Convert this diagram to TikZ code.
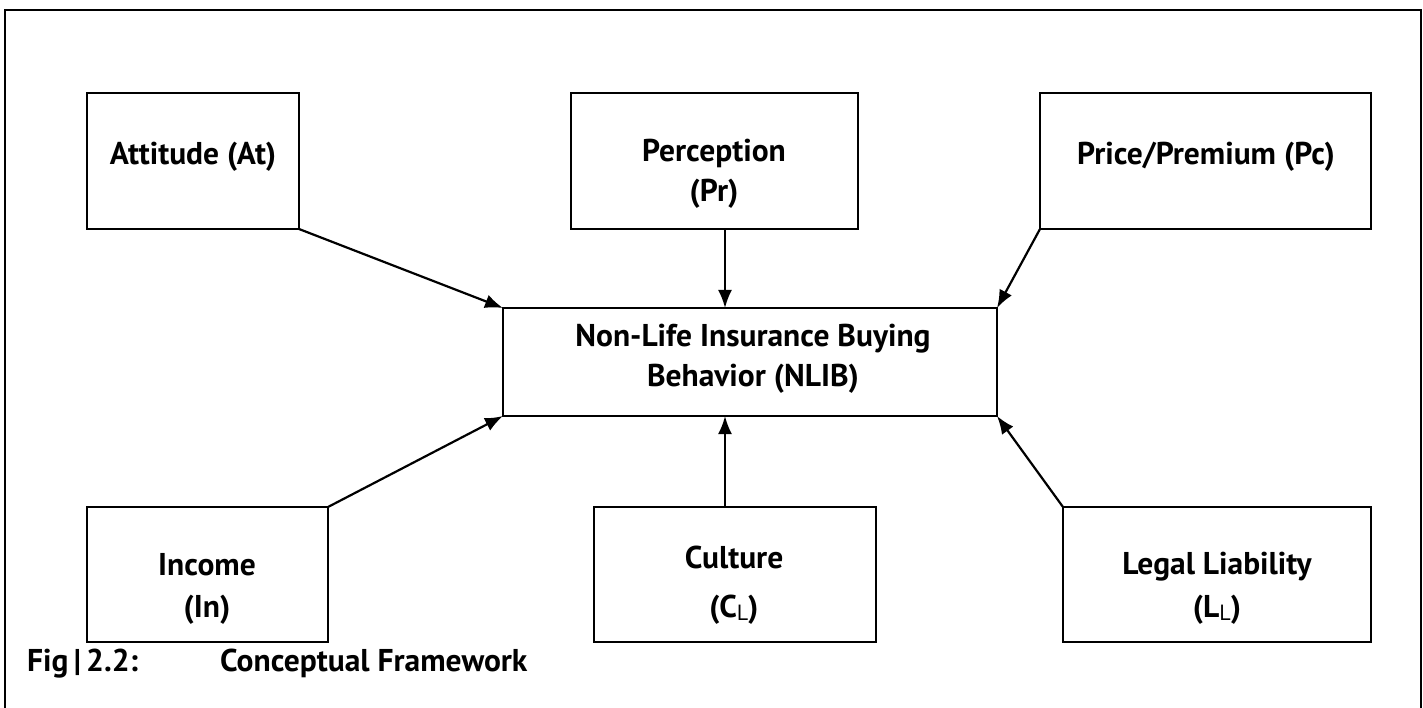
\documentclass[tikz,border=0pt]{standalone}
\usepackage{fontspec}
\setmainfont{PT Sans}
\usetikzlibrary{arrows.meta}
\newcommand{\subL}{{\fontsize{22}{22}\selectfont\mdseries\raisebox{-3pt}{L}}}
\begin{document}
\begin{tikzpicture}[x=1pt,y=-1pt,
  box/.style={draw,line width=2.2pt,inner sep=0pt,outer sep=0pt,minimum height=136pt},
  txt/.style={anchor=base,inner sep=0pt,font=\fontsize{31.5}{31.5}\selectfont\bfseries},
  captxt/.style={anchor=base west,inner sep=0pt,font=\fontsize{31.5}{31.5}\selectfont\bfseries},
  arr/.style={line width=2.2pt,-{Latex[length=18pt,width=14pt]}}]
\useasboundingbox (0,0) rectangle (1423,708);
\begin{scope}
\clip (0,0) rectangle (1423,708);
\draw[line width=2.5pt] (5,10) rectangle (1421,730);
\end{scope}
% boxes
\node[box,minimum width=212pt] (att) at (193,161) {};
\node[box,minimum width=287pt] (per) at (714.5,161) {};
\node[box,minimum width=331pt] (pri) at (1205.5,161) {};
\node[box,minimum width=494pt,minimum height=108pt] (nlib) at (750,362) {};
\node[box,minimum width=241pt,minimum height=135pt] (inc) at (207.5,574.5) {};
\node[box,minimum width=282pt,minimum height=135pt] (cul) at (735,574.5) {};
\node[box,minimum width=308pt,minimum height=135pt] (leg) at (1217,574.5) {};
% texts
\node[txt] (t1) at (193,165) {Attitude (At)};
\node[txt] (t2a) at (714,162) {Perception};
\node[txt] (t2b) at (714,202) {(Pr)};
\node[txt] (t3) at (1206,165) {Price/Premium (Pc)};
\node[txt] (t4a) at (753,346) {Non-Life Insurance Buying};
\node[txt] (t4b) at (753,386) {Behavior (NLIB)};
\node[txt] (t5a) at (207,575) {Income};
\node[txt] (t5b) at (207,617) {(In)};
\node[txt] (t6a) at (734,568) {Culture};
\node[txt] (t6b) at (734,617) {(C\subL)};
\node[txt] (t7a) at (1217,574) {Legal Liability};
\node[txt] (t7b) at (1217,617) {(L\subL)};
\node[captxt] (c1) at (27,671) {Fig\,|\,2.2:};
\node[captxt] (c2) at (220,671) {Conceptual Framework};
% arrows
\coordinate (mx) at (725,0);
\draw[arr] (att.south east) -- (nlib.north west);
\draw[arr] (per.south -| mx) -- (nlib.north -| mx);
\draw[arr] (pri.south west) -- (nlib.north east);
\draw[arr] (inc.north east) -- (nlib.south west);
\draw[arr] (cul.north -| mx) -- (nlib.south -| mx);
\draw[arr] (leg.north west) -- (nlib.south east);
\end{tikzpicture}
\end{document}
